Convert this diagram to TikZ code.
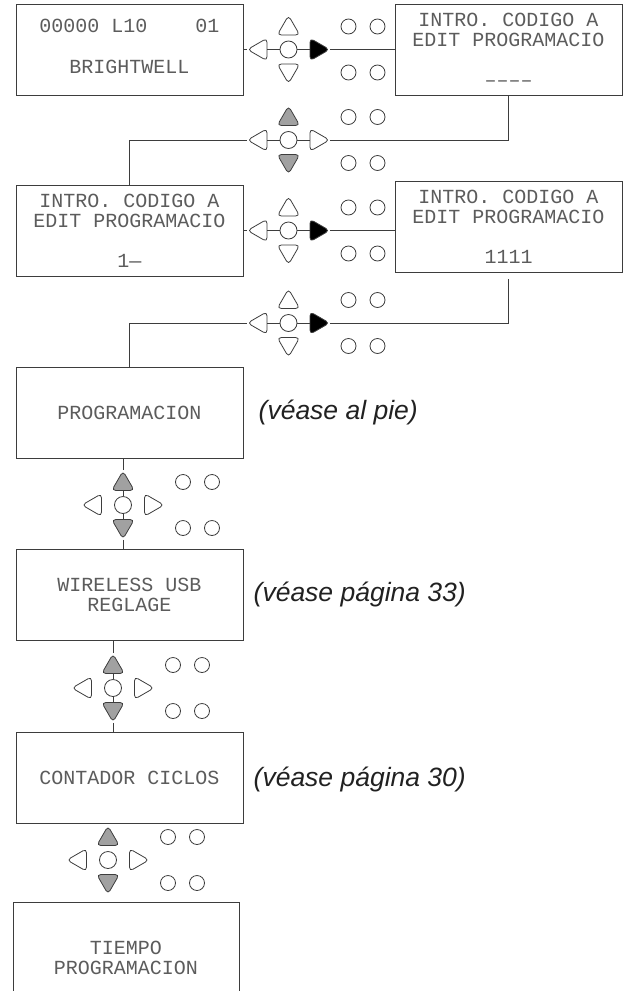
\documentclass[tikz,border=0pt]{standalone}
\usepackage{fontspec}
\usetikzlibrary{positioning,shapes.geometric}
\newfontfamily\lcdfont{Liberation Mono}
\newfontfamily\notefont{Liberation Sans}
\definecolor{linegray}{rgb}{0.24, 0.24, 0.24}
\definecolor{textgray}{rgb}{0.36, 0.36, 0.36}
\definecolor{keygray}{rgb}{0.63, 0.63, 0.63}
\definecolor{notegray}{rgb}{0.13, 0.13, 0.13}
\tikzstyle{lcdstyle} = [rectangle,
minimum width=227pt,
minimum height=91pt,
align=center,
draw=linegray,
line width=1pt,
text=textgray,
font=\lcdfont\fontsize{20}{20}\selectfont]
\tikzstyle{notestyle} = [inner sep=0pt,
text=notegray,
font=\notefont\itshape\fontsize{26.5}{30}\selectfont]
\tikzstyle{keyarrow} = [regular polygon,
regular polygon sides=3,
minimum size=26pt,
inner sep=0pt,
draw=linegray,
line width=0.8pt,
rounded corners=4pt,
fill=white]
\tikzstyle{keyc} = [circle, minimum size=17pt, inner sep=0pt, draw=linegray, line width=0.8pt, fill=white]
\tikzstyle{keydot} = [circle, minimum size=15pt, inner sep=0pt, draw=linegray, line width=0.8pt]
\tikzstyle{wire} = [draw=linegray, line width=1pt]
% keypad: name, centre, fill of up/down keys, fill of right key
\newcommand{\keypad}[4]{%
\node (#1c) [keyc] at (#2) {};
\node (#1u) [keyarrow, on grid, above=21pt of #1c, fill=#3] {};
\node (#1d) [keyarrow, shape border rotate=180, on grid, below=21pt of #1c, fill=#3] {};
\node (#1l) [keyarrow, shape border rotate=90, on grid, left=28pt of #1c] {};
\node (#1r) [keyarrow, shape border rotate=-90, on grid, right=28pt of #1c, fill=#4] {};
\node (#1a) [keydot, on grid, right=60pt of #1c, yshift=23pt] {};
\node (#1b) [keydot, on grid, right=89pt of #1c, yshift=23pt] {};
\node (#1e) [keydot, on grid, right=60pt of #1c, yshift=-23pt] {};
\node (#1f) [keydot, on grid, right=89pt of #1c, yshift=-23pt] {};
}

\begin{document}
\begin{tikzpicture}[x=1pt, y=-1pt]
\useasboundingbox (0,0) rectangle (629,991);
\clip (0,0) rectangle (629,991);

\node (b1) [lcdstyle, text depth=7pt] at (129.5,49.5) {00000~L10~~~~01\\[21pt]BRIGHTWELL};
\node (b2) [lcdstyle] at (508.5,49.5) {INTRO. CODIGO A\\EDIT PROGRAMACIO\\[20pt]––––};
\node (b3) [lcdstyle] at (129.5,230.5) {INTRO. CODIGO A\\EDIT PROGRAMACIO\\[20pt]1—};
\node (b4) [lcdstyle] at (508.5,226.5) {INTRO. CODIGO A\\EDIT PROGRAMACIO\\[20pt]1111};
\node (b5) [lcdstyle] at (129.5,412.5) {PROGRAMACION};
\node (b6) [lcdstyle, below=90pt of b5] {WIRELESS USB\\REGLAGE};
\node (b7) [lcdstyle, below=91pt of b6] {CONTADOR CICLOS};
\node (b8) [lcdstyle, minimum width=226pt, minimum height=112pt] at (126,958) {TIEMPO\\PROGRAMACION};

\node (n5) [notestyle, right=15pt of b5] {(véase al pie)};
\node (n6) [notestyle, right=10pt of b6] {(véase página 33)};
\node (n7) [notestyle, right=10pt of b7, yshift=-1.5pt] {(véase página 30)};

\keypad{k1}{288.5,49.5}{white}{black}
\keypad{k2}{288.5,140}{keygray}{white}
\keypad{k3}{288.5,230.5}{white}{black}
\keypad{k4}{288.5,323}{white}{black}
\keypad{k5}{123,505}{keygray}{white}
\keypad{k6}{113,688}{keygray}{white}
\keypad{k7}{108,860}{keygray}{white}

\draw [wire] (b1) -- (k1l) -- (k1c) -- (k1r) -- (b2);
\draw [wire] (b3) |- (k2l) -- (k2c) -- (k2r) -| (b2);
\draw [wire] (b3) -- (k3l) -- (k3c) -- (k3r) -- (k3r -| b4.west);
\draw [wire, shorten >=6pt] (b5) |- (k4l) -- (k4c) -- (k4r) -| (b4);
\draw [wire] (b5.south -| k5c) -- (k5u) -- (k5c) -- (k5d) -- (b6.north -| k5c);
\draw [wire] (b6.south -| k6c) -- (k6u) -- (k6c) -- (k6d) -- (b7.north -| k6c);
\end{tikzpicture}
\end{document}
